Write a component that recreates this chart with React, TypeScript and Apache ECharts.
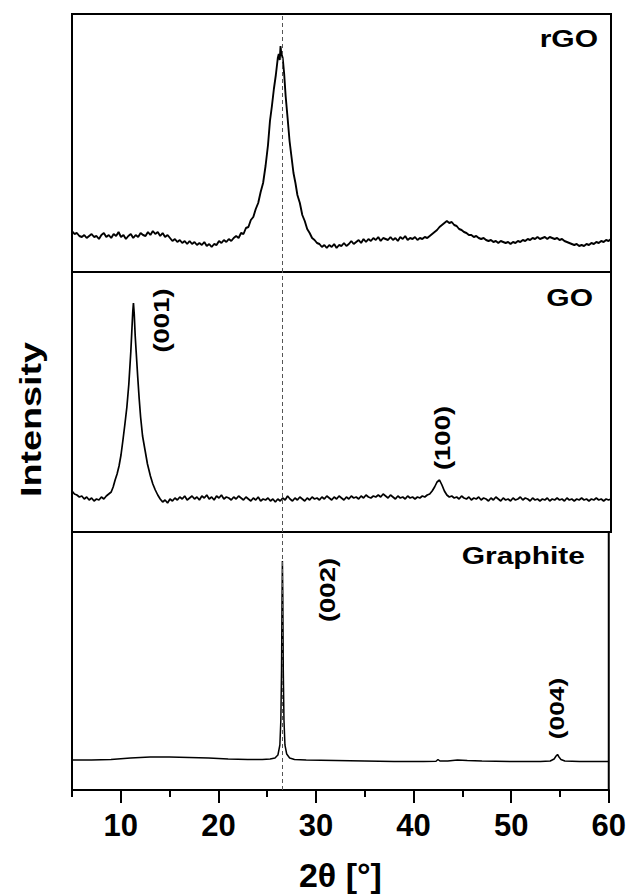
import React, { useEffect, useRef } from "react";
import * as echarts from "echarts";

// ---- data (2θ in degrees, intensity in arbitrary units per panel) ----
const scanStep = 0.25;

// rGO
const rgoLeftStart = 5;
const rgoLeftCounts = [
  41, 38, 39, 36, 35, 37, 34, 36, 38, 35, 36, 33, 37, 39, 35, 37,
  34, 38, 36, 40, 35, 37, 33, 36, 38, 34, 37, 35, 39, 37, 36, 40,
  37, 41, 38, 40, 36, 39, 35, 37, 34, 31, 33, 30, 32, 29, 31, 28,
  31, 28, 30, 27, 29, 27, 30, 26, 28, 25, 28, 27, 31, 29, 32, 30,
  33, 31, 34, 36,
];
const rgoPeakAngles = [
  22.0, 22.25, 22.5, 22.75, 23.0, 23.25, 23.5, 23.75, 24.0, 24.25, 24.5, 24.75,
  25.0, 25.2, 25.4, 25.6, 25.8, 26.0, 26.1, 26.2, 26.28, 26.35, 26.5, 26.65,
  26.8, 27.0, 27.2, 27.4, 27.6, 27.8, 28.0, 28.25, 28.5, 28.75, 29.0, 29.25,
  29.5, 29.75, 30.0,
];
const rgoPeakCounts = [
  34, 39, 38, 44, 45, 52, 55, 63, 69, 80, 89, 106,
  127, 151, 166, 183, 197, 214, 218, 212, 226, 219, 214, 198,
  176, 154, 131, 115, 99, 89, 77, 69, 57, 51, 43, 39,
  34, 32, 29,
];
const rgoRightStart = 30.25;
const rgoRightCounts = [
  28, 25, 27, 24, 27, 25, 28, 24, 27, 26, 29, 26, 28, 31, 28, 30,
  32, 29, 33, 30, 33, 31, 34, 32, 35, 31, 34, 33, 32, 35, 32, 34,
  31, 35, 33, 36, 32, 34, 33, 35, 32, 34, 33, 35, 34, 36, 38, 40,
  42, 45, 47, 49, 51, 49, 50, 47, 46, 43, 42, 40, 39, 37, 37, 35,
  36, 34, 33, 34, 32, 31, 32, 30, 31, 29, 31, 30, 29, 30, 28, 30,
  29, 31, 30, 32, 31, 33, 32, 34, 33, 35, 33, 34, 35, 33, 35, 34,
  33, 34, 32, 33, 31, 30, 29, 28, 27, 28, 26, 27, 26, 28, 27, 29,
  28, 30, 29, 31, 30, 32, 31, 33,
];

// GO
const goLeftStart = 5;
const goLeftCounts = [41, 38, 37, 35, 36, 33, 35, 32, 34, 31, 33, 32, 35, 33, 36, 38];
const goPeakAngles = [
  9.0, 9.2, 9.4, 9.6, 9.8, 10.0, 10.2, 10.4, 10.6, 10.8, 11.0, 11.1, 11.2, 11.27,
  11.35, 11.45, 11.55, 11.7, 11.85, 12.0, 12.2, 12.45, 12.7, 13.0, 13.25, 13.5, 13.75,
];
const goPeakCounts = [
  40, 45, 52, 58, 66, 77, 92, 108, 125, 148, 180, 200, 220, 229,
  218, 196, 180, 156, 134, 115, 96, 82, 68, 56, 48, 42, 37,
];
const goRightStart = 14;
const goRightCounts = [
  33, 30, 32, 29, 33, 31, 34, 32, 35, 33, 36, 32, 34, 36, 33, 35,
  32, 36, 34, 37, 33, 35, 32, 36, 34, 37, 33, 35, 34, 32, 35, 33,
  36, 34, 32, 35, 33, 31, 34, 32, 35, 31, 33, 32, 34, 31, 33, 30,
  33, 31, 34, 32, 36, 33, 31, 34, 32, 35, 33, 31, 34, 32, 35, 33,
  34, 32, 35, 33, 36, 34, 32, 35, 33, 36, 34, 32, 35, 33, 36, 34,
  35, 33, 36, 34, 37, 35, 34, 36, 35, 37, 35, 38, 36, 34, 37, 35,
  33, 36, 34, 35, 33, 36, 34, 35, 33, 35, 34, 36, 35, 37, 38, 41,
  45, 50, 52, 47, 41, 37, 35, 36, 34, 35, 33, 36, 34, 33, 35, 32,
  34, 33, 35, 32, 34, 33, 31, 34, 32, 35, 33, 31, 34, 32, 33, 31,
  34, 32, 33, 35, 32, 34, 33, 31, 34, 32, 33, 31, 33, 32, 34, 31,
  33, 32, 34, 32, 33, 31, 34, 32, 33, 31, 33, 32, 34, 32, 33, 31,
  33, 32, 34, 32, 33, 31, 33, 32, 33,
];

// Graphite
const graphiteAngles = [
  5, 7, 9, 11, 13, 15, 17, 19, 21, 23, 24.5, 25.3, 25.8, 26.1, 26.3, 26.4,
  26.47, 26.52, 26.56, 26.6, 26.65, 26.72, 26.82, 27.0, 27.3, 27.8, 29, 32,
  35, 38, 41, 42.3, 42.5, 42.7, 43.5, 44.5, 45.5, 47, 50, 53, 54, 54.4,
  54.6, 54.75, 54.9, 55.1, 55.5, 57, 60,
];
const graphiteCounts = [
  30, 30, 30.5, 32, 33, 33, 32.5, 32, 31, 30.5, 30.5, 31, 32, 35, 45, 70,
  120, 190, 229, 195, 120, 70, 45, 36, 32, 30.5, 30, 29.5,
  29, 28.5, 28.5, 28.8, 30.5, 29, 29, 30, 29.5, 29, 28.5, 28.5, 29, 31,
  34, 35.5, 33, 30.5, 29, 28.5, 28.5,
];

const referenceAngle = 26.5;
const majorTicks = [10, 20, 30, 40, 50, 60];
const minorTicks = [5, 15, 25, 35, 45, 55];
const panelNames = ["rGO", "GO", "Graphite"];
const reflectionLabels = ["(001)", "(100)", "(002)", "(004)"];

function uniform(start: number, counts: number[]): number[][] {
  return counts.map((c, i) => [start + i * scanStep, c]);
}
function paired(angles: number[], counts: number[]): number[][] {
  return angles.map((a, i) => [a, counts[i]]);
}

const FONT = "Liberation Sans, Arial, Helvetica, sans-serif";

export default function App() {
  const ref = useRef<HTMLDivElement>(null);
  useEffect(() => {
    if (!ref.current) return;
    const chart = echarts.init(ref.current, null, { renderer: "svg" });

    const rgo = [
      ...uniform(rgoLeftStart, rgoLeftCounts),
      ...paired(rgoPeakAngles, rgoPeakCounts),
      ...uniform(rgoRightStart, rgoRightCounts),
    ];
    const go = [
      ...uniform(goLeftStart, goLeftCounts),
      ...paired(goPeakAngles, goPeakCounts),
      ...uniform(goRightStart, goRightCounts),
    ];
    const graphite = paired(graphiteAngles, graphiteCounts);

    const grids = [
      { left: 72, right: 18, top: 14, height: 258 },
      { left: 72, right: 18, top: 272, height: 260 },
      { left: 72, right: 18, top: 532, height: 258 },
    ].map((g) => ({ ...g, show: true, borderColor: "#000", borderWidth: 2, backgroundColor: "transparent" }));

    const hiddenX = (gi: number) => ({
      type: "value",
      gridIndex: gi,
      min: 5,
      max: 60,
      show: false,
    });

    const markLine = {
      silent: true,
      symbol: ["none", "none"],
      label: { show: false },
      lineStyle: { color: "#555", type: [4, 3], width: 1 },
      data: [{ xAxis: referenceAngle }],
    };

    const lineSeries = (data: number[][], idx: number, width: number) => ({
      type: "line",
      xAxisIndex: idx,
      yAxisIndex: idx,
      data,
      showSymbol: false,
      symbol: "none",
      lineStyle: { color: "#000", width },
      z: 3,
      markLine,
    });

    const textStyle = (text: string, size: number) => ({
      text,
      fontSize: size,
      fontWeight: "bold",
      fontFamily: FONT,
      fill: "#000",
    });

    chart.setOption({
      animation: false,
      grid: grids,
      xAxis: [
        hiddenX(0),
        hiddenX(1),
        {
          type: "value",
          gridIndex: 2,
          min: 5,
          max: 60,
          position: "bottom",
          axisLine: { show: true, lineStyle: { color: "#000", width: 2 } },
          axisTick: { show: true, customValues: majorTicks, length: 13, lineStyle: { color: "#000", width: 2 } },
          axisLabel: {
            show: true,
            customValues: majorTicks,
            color: "#000",
            fontSize: 31,
            fontWeight: "bold",
            fontFamily: FONT,
            margin: 20,
          },
          splitLine: { show: false },
          name: "2θ [°]",
          nameLocation: "middle",
          nameGap: 68,
          nameTextStyle: { color: "#000", fontSize: 34, fontWeight: "bold", fontFamily: FONT },
        },
        {
          type: "value",
          gridIndex: 2,
          min: 5,
          max: 60,
          position: "bottom",
          axisLine: { show: false },
          axisTick: { show: true, customValues: minorTicks, length: 7, lineStyle: { color: "#000", width: 2 } },
          axisLabel: { show: false },
          splitLine: { show: false },
        },
      ],
      yAxis: [
        { type: "value", gridIndex: 0, min: 0, max: 258, show: false },
        { type: "value", gridIndex: 1, min: 0, max: 260, show: false },
        { type: "value", gridIndex: 2, min: 0, max: 258, show: false },
      ],
      series: [
        lineSeries(rgo, 0, 1.9),
        lineSeries(go, 1, 1.7),
        lineSeries(graphite, 2, 1.5),
      ],
      graphic: [
        {
          type: "text",
          x: 31.5,
          y: 419.5,
          rotation: Math.PI / 2,
          scaleX: 1.3,
          style: { ...textStyle("Intensity", 29), align: "center", verticalAlign: "middle" },
        },
        {
          type: "text",
          x: 598,
          y: 39,
          scaleX: 1.25,
          style: { ...textStyle(panelNames[0], 24), align: "right", verticalAlign: "middle" },
        },
        {
          type: "text",
          x: 593,
          y: 298,
          scaleX: 1.25,
          style: { ...textStyle(panelNames[1], 24), align: "right", verticalAlign: "middle" },
        },
        {
          type: "text",
          x: 585,
          y: 556,
          scaleX: 1.25,
          style: { ...textStyle(panelNames[2], 24), align: "right", verticalAlign: "middle" },
        },
        {
          type: "text",
          x: 161,
          y: 320.5,
          rotation: Math.PI / 2,
          scaleX: 1.25,
          style: { ...textStyle(reflectionLabels[0], 22), align: "center", verticalAlign: "middle" },
        },
        {
          type: "text",
          x: 442,
          y: 438,
          rotation: Math.PI / 2,
          scaleX: 1.25,
          style: { ...textStyle(reflectionLabels[1], 22), align: "center", verticalAlign: "middle" },
        },
        {
          type: "text",
          x: 327,
          y: 590,
          rotation: Math.PI / 2,
          scaleX: 1.25,
          style: { ...textStyle(reflectionLabels[2], 22), align: "center", verticalAlign: "middle" },
        },
        {
          type: "text",
          x: 556,
          y: 708.5,
          rotation: Math.PI / 2,
          scaleX: 1.25,
          style: { ...textStyle(reflectionLabels[3], 21), align: "center", verticalAlign: "middle" },
        },
      ],
    });

    return () => chart.dispose();
  }, []);

  return (
    <div
      ref={ref}
      style={{ position: "fixed", left: 0, top: 0, width: 629, height: 894, background: "#fff" }}
    />
  );
}
